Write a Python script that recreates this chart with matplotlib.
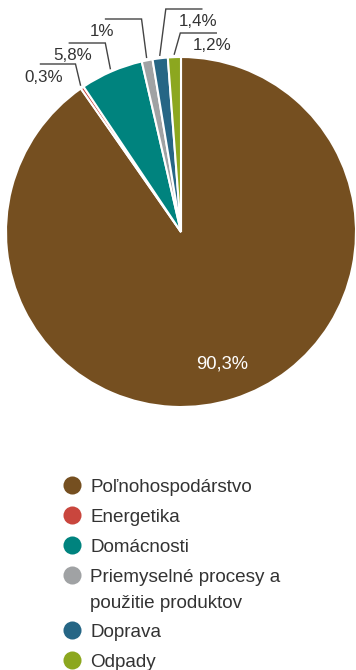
import numpy as np
import matplotlib
matplotlib.use("Agg")
import matplotlib.pyplot as plt

plt.rcParams['font.family'] = ['Liberation Sans', 'DejaVu Sans']

# data
categories = ['Poľnohospodárstvo', 'Energetika', 'Domácnosti',
              'Priemyselné procesy a\npoužitie produktov', 'Doprava', 'Odpady']
shares = [90.3, 0.3, 5.8, 1.0, 1.4, 1.2]
share_labels = ['90,3%', '0,3%', '5,8%', '1%', '1,4%', '1,2%']
colors = ['#754f20', '#c9463d', '#00837e', '#a0a2a4', '#266685', '#8ca71f']

W, H = 356, 670
cx, cy, R = 181, 232, 175
FS = 12.2      # pie labels
FS_LEG = 13.6  # legend
TXT = '#333333'

fig = plt.figure(figsize=(W / 100, H / 100), dpi=100)
ax = fig.add_axes([0, 0, 1, 1])

# y axis is inverted (pixel coords), so startangle -90 = top, counterclock -> clockwise on screen
wedges, _ = ax.pie(shares, colors=colors, startangle=-90, counterclock=True,
                   center=(cx, cy), radius=R,
                   wedgeprops=dict(edgecolor='white', linewidth=1.5))
ax.set_xlim(0, W)
ax.set_ylim(H, 0)
ax.axis('off')

# mid angles, measured clockwise from 12 o'clock
cum = np.cumsum([0] + shares)
mids = (cum[:-1] + cum[1:]) / 2 / 100 * 2 * np.pi

# big label inside
a = mids[0]
ax.text(cx + 0.79 * R * np.sin(a), cy - 0.79 * R * np.cos(a), share_labels[0],
        color='white', fontsize=13.2, ha='center', va='center')

# leader lines for small slices: (dx of elbow, elbow y, horizontal length, text dx)
leaders = [(-5, 64, -35, 3), (-5, 43, -36, 3), (-5, 19, -36, -4),
           (6, 9, 36, -4), (6, 33, 36, -4)]
for i, (dx, ey, hl, tdx) in zip(range(1, 6), leaders):
    a = mids[i]
    x0 = cx + (R + 3) * np.sin(a)
    y0 = cy - (R + 3) * np.cos(a)
    x1 = x0 + dx
    x2 = x1 + hl
    ax.plot([x0, x1, x2], [y0, ey, ey], color='#444444', lw=1, solid_joinstyle='miter')
    ax.text(x2 + tdx, ey + 17.5, share_labels[i], color=TXT, fontsize=FS,
            ha='center', va='baseline')

# legend
ly = 485
for name, c in zip(categories, colors):
    ax.plot(72, ly, 'o', ms=13, color=c, mec='none')
    lines = name.split('\n')
    for j, ln in enumerate(lines):
        ax.text(90, ly + 6.8 + 26 * j, ln, color=TXT, fontsize=FS_LEG,
                ha='left', va='baseline')
    ly += 30 + 25 * (len(lines) - 1)

fig.savefig('out.png', dpi=100)
